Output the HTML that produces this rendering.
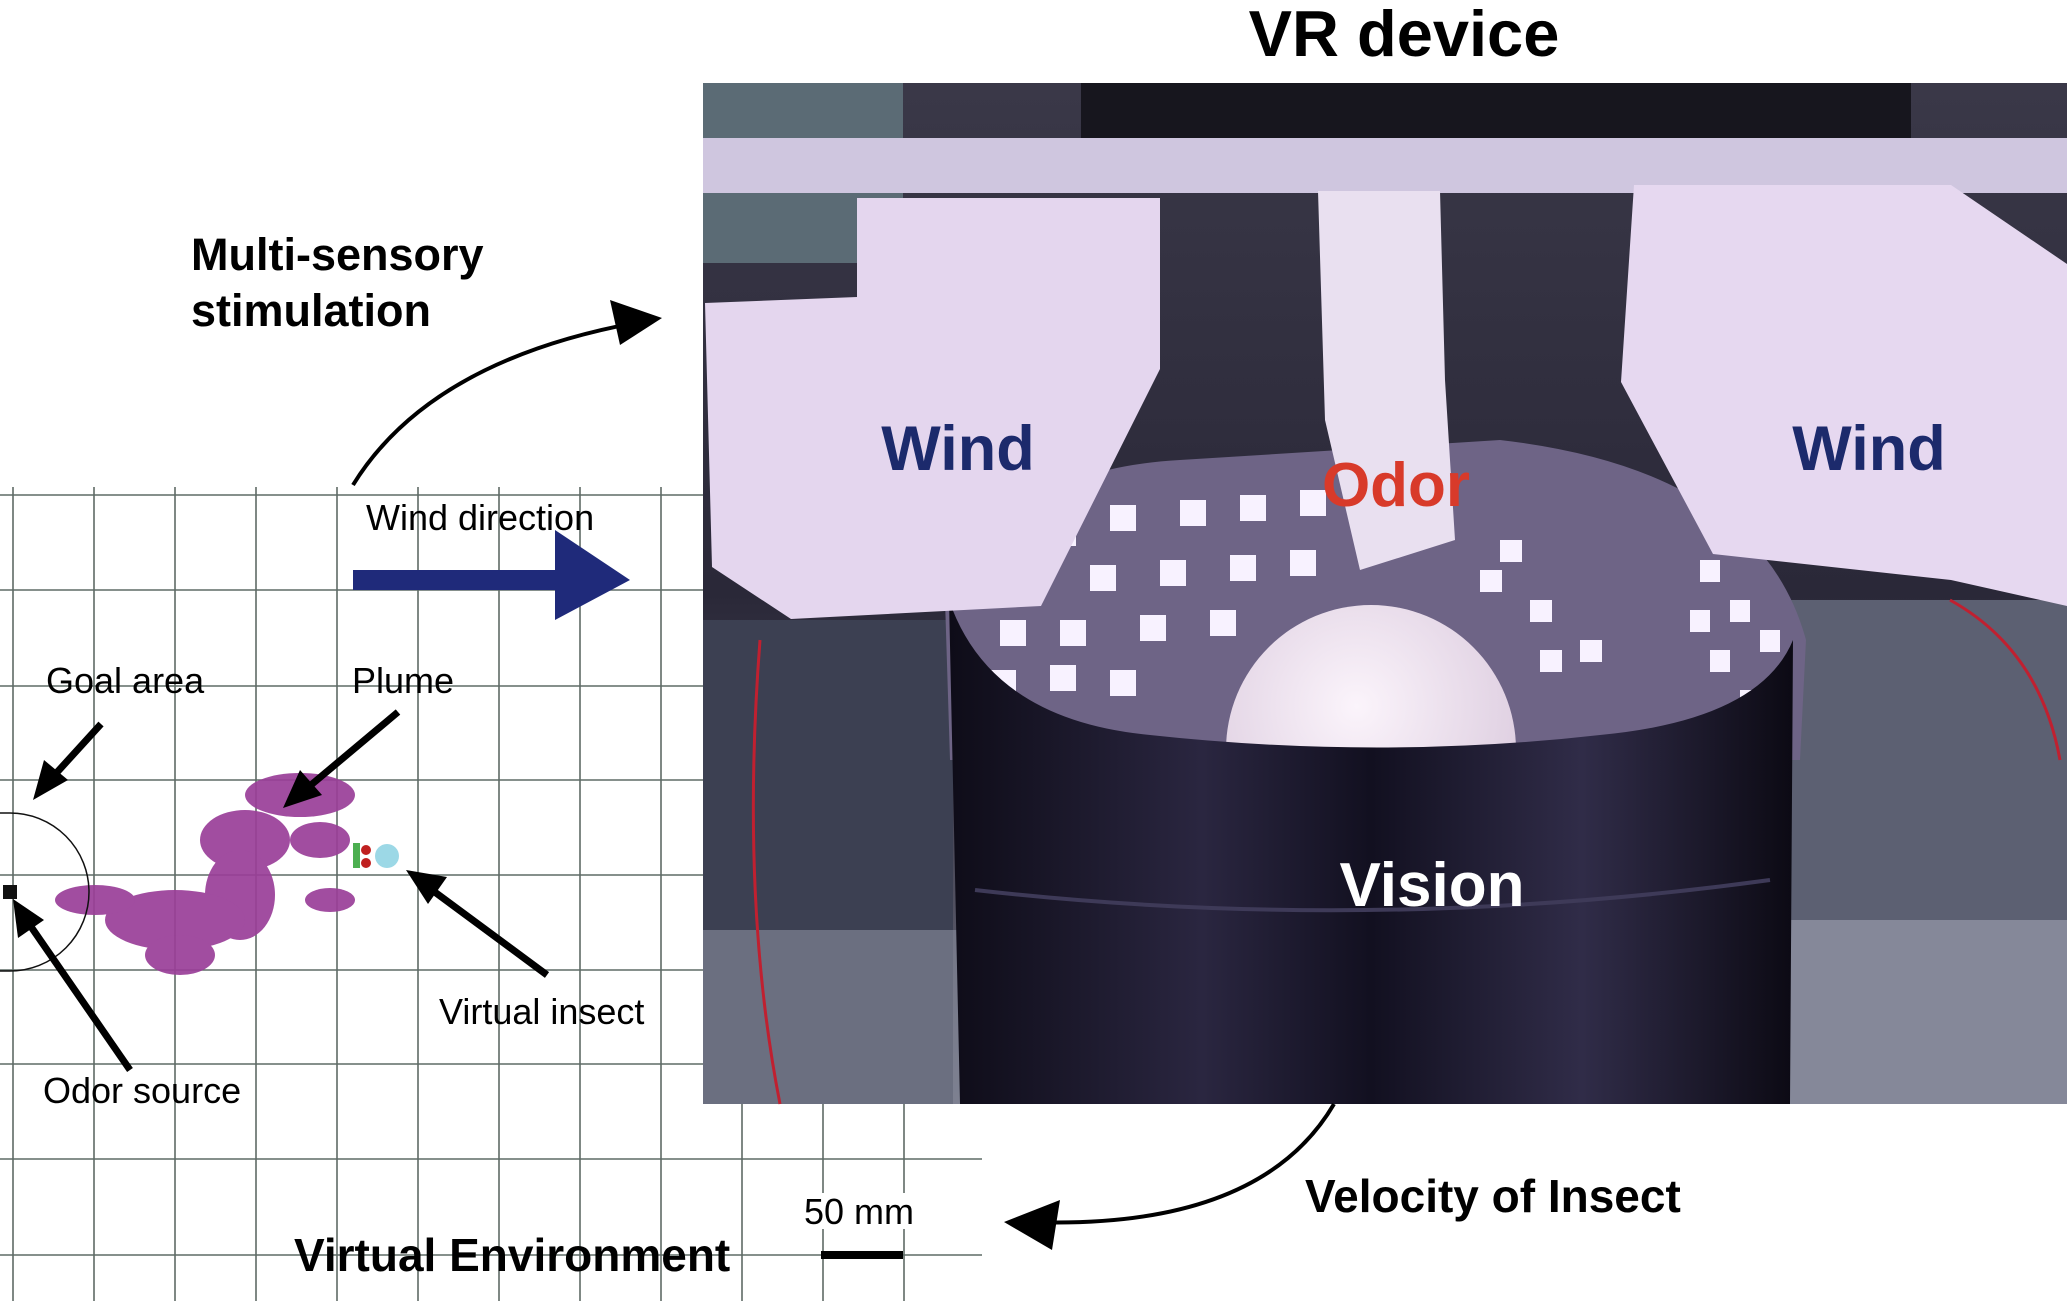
<!DOCTYPE html>
<html><head><meta charset="utf-8"><style>
html,body{margin:0;padding:0;background:#fff;}
body{width:2067px;height:1301px;overflow:hidden;position:relative;font-family:"Liberation Sans",Arial,sans-serif;}
svg{position:absolute;left:0;top:0;}
</style></head><body>
<svg width="2067" height="1301" viewBox="0 0 2067 1301" xmlns="http://www.w3.org/2000/svg">
<defs>
<radialGradient id="sph" cx="0.45" cy="0.35" r="0.7"><stop offset="0" stop-color="#fbf4fb"/><stop offset="1" stop-color="#d9c8dc"/></radialGradient>
<linearGradient id="cyl" x1="0" x2="1" y1="0" y2="0"><stop offset="0" stop-color="#0e0c18"/><stop offset="0.3" stop-color="#2a2640"/><stop offset="0.5" stop-color="#121020"/><stop offset="0.75" stop-color="#302c48"/><stop offset="1" stop-color="#0c0a14"/></linearGradient>
<linearGradient id="bg" x1="0" x2="0" y1="0" y2="1"><stop offset="0" stop-color="#3a3848"/><stop offset="0.5" stop-color="#2a2838"/><stop offset="1" stop-color="#6a6a7a"/></linearGradient>
</defs>
<!-- grid -->
<g stroke="#5f6b66" stroke-width="1.6">
<line x1="13" y1="487" x2="13" y2="1301"/><line x1="94" y1="487" x2="94" y2="1301"/><line x1="175" y1="487" x2="175" y2="1301"/><line x1="256" y1="487" x2="256" y2="1301"/><line x1="337" y1="487" x2="337" y2="1301"/><line x1="418" y1="487" x2="418" y2="1301"/><line x1="499" y1="487" x2="499" y2="1301"/><line x1="580" y1="487" x2="580" y2="1301"/><line x1="661" y1="487" x2="661" y2="1301"/><line x1="742" y1="1100" x2="742" y2="1301"/><line x1="823" y1="1100" x2="823" y2="1301"/><line x1="904" y1="1100" x2="904" y2="1301"/>
<line x1="0" y1="495" x2="703" y2="495"/><line x1="0" y1="590" x2="703" y2="590"/><line x1="0" y1="686" x2="703" y2="686"/><line x1="0" y1="780" x2="703" y2="780"/><line x1="0" y1="875" x2="703" y2="875"/><line x1="0" y1="970" x2="703" y2="970"/><line x1="0" y1="1064" x2="703" y2="1064"/><line x1="0" y1="1159" x2="982" y2="1159"/><line x1="0" y1="1255" x2="982" y2="1255"/>
</g>
<!-- photo -->
<rect x="703" y="83" width="1364" height="1021" fill="url(#bg)"/>
<rect x="703" y="83" width="200" height="180" fill="#5b6b75"/>
<rect x="1081" y="83" width="830" height="62" fill="#17161e"/>
<rect x="703" y="138" width="1364" height="55" fill="#cfc6df"/>
<rect x="703" y="620" width="250" height="484" fill="#3c4052"/>
<rect x="1790" y="600" width="277" height="504" fill="#5c6072"/>
<rect x="703" y="930" width="260" height="174" fill="#8a90a0" opacity="0.6"/>
<rect x="1790" y="920" width="277" height="184" fill="#a0a4b4" opacity="0.6"/>
<!-- LED panel -->
<path d="M945 600 Q1000 470 1180 460 L1500 440 Q1760 470 1806 640 L1800 760 L950 760 Z" fill="#6e6486"/>
<g fill="#f8f2ff">
<rect x="1050" y="520" width="26" height="26"/><rect x="1110" y="505" width="26" height="26"/><rect x="1180" y="500" width="26" height="26"/><rect x="1240" y="495" width="26" height="26"/><rect x="1300" y="490" width="26" height="26"/>
<rect x="1020" y="570" width="26" height="26"/><rect x="1090" y="565" width="26" height="26"/><rect x="1160" y="560" width="26" height="26"/><rect x="1230" y="555" width="26" height="26"/><rect x="1290" y="550" width="26" height="26"/>
<rect x="1000" y="620" width="26" height="26"/><rect x="1060" y="620" width="26" height="26"/><rect x="1140" y="615" width="26" height="26"/><rect x="1210" y="610" width="26" height="26"/>
<rect x="990" y="670" width="26" height="26"/><rect x="1050" y="665" width="26" height="26"/><rect x="1110" y="670" width="26" height="26"/>
<rect x="1480" y="570" width="22" height="22"/><rect x="1530" y="600" width="22" height="22"/><rect x="1500" y="540" width="22" height="22"/><rect x="1540" y="650" width="22" height="22"/><rect x="1580" y="640" width="22" height="22"/>
<rect x="1700" y="560" width="20" height="22"/><rect x="1730" y="600" width="20" height="22"/><rect x="1710" y="650" width="20" height="22"/><rect x="1740" y="690" width="20" height="22"/><rect x="1760" y="630" width="20" height="22"/><rect x="1690" y="610" width="20" height="22"/>
</g>
<circle cx="1371" cy="750" r="145" fill="url(#sph)"/>
<!-- cylinder -->
<path d="M949 600 Q990 720 1150 735 Q1380 760 1600 735 Q1760 720 1793 640 L1790 1104 L960 1104 Z" fill="url(#cyl)"/>
<path d="M975 890 Q1370 935 1770 880" stroke="#3e3a58" stroke-width="4" fill="none"/>
<!-- wind housings -->
<polygon points="857,198 1160,198 1160,369 1041,606 791,619 712,567 705,303 857,297" fill="#e4d6ee"/>
<polygon points="1634,185 1951,185 2067,264 2067,606 1951,580 1713,554 1621,382" fill="#e6d8f0"/>
<!-- tube -->
<polygon points="1318,191 1440,191 1445,380 1455,540 1360,570 1325,420" fill="#e9e0f0"/>
<path d="M760 640 Q740 900 780 1104" stroke="#c02030" stroke-width="3" fill="none"/>
<path d="M1950 600 Q2040 650 2060 760" stroke="#c02030" stroke-width="3" fill="none"/>
<!-- photo labels -->
<g font-family="Liberation Sans,Arial,sans-serif" font-weight="bold" font-size="63" text-anchor="middle">
<text x="958" y="470" fill="#1c2a6c">Wind</text>
<text x="1869" y="470" fill="#1c2a6c">Wind</text>
<text x="1396" y="506" font-size="62" fill="#d83a2a">Odor</text>
<text x="1432" y="906" font-size="62" fill="#ffffff">Vision</text>
</g>
<!-- left plume -->
<g fill="#9a3e98" opacity="0.92">
<ellipse cx="300" cy="795" rx="55" ry="22"/><ellipse cx="245" cy="840" rx="45" ry="30"/><ellipse cx="240" cy="895" rx="35" ry="45"/><ellipse cx="175" cy="920" rx="70" ry="30"/><ellipse cx="95" cy="900" rx="40" ry="15"/><ellipse cx="180" cy="955" rx="35" ry="20"/><ellipse cx="320" cy="840" rx="30" ry="18"/><ellipse cx="330" cy="900" rx="25" ry="12"/>
</g>
<path d="M0 813 L10 813 A79 79 0 0 1 10 971 L0 971" stroke="#111" stroke-width="1.5" fill="none"/>
<rect x="3" y="885" width="14" height="14" fill="#111"/>
<rect x="353" y="843" width="7" height="25" fill="#4caf50"/><circle cx="366" cy="850" r="5" fill="#c02020"/><circle cx="366" cy="863" r="5" fill="#c02020"/><circle cx="387" cy="856" r="12" fill="#9cd8e6"/>
<!-- black straight arrows -->
<g stroke="#000" stroke-width="7" fill="none">
<line x1="101" y1="724" x2="50" y2="780"/><line x1="398" y1="712" x2="305" y2="790"/><line x1="547" y1="975" x2="428" y2="887"/><line x1="130" y1="1070" x2="25" y2="918"/>
</g>
<g fill="#000">
<polygon points="33,800 44,760 68,780"/><polygon points="283,808 300,770 322,795"/><polygon points="406,870 447,877 428,904"/><polygon points="13,899 44,920 18,938"/>
</g>
<!-- blue wind arrow -->
<rect x="353" y="570" width="205" height="20" fill="#1f2a7a"/>
<polygon points="555,530 630,580 555,620" fill="#1f2a7a"/>
<!-- curved arrows -->
<path d="M353 485 Q430 360 640 322" stroke="#000" stroke-width="4" fill="none"/>
<polygon points="662,318 610,300 620,345" fill="#000"/>
<path d="M1334 1104 Q1260 1230 1030 1222" stroke="#000" stroke-width="4" fill="none"/>
<polygon points="1004,1222 1060,1200 1052,1250" fill="#000"/>
<!-- scale bar -->
<rect x="821" y="1251" width="82" height="8" fill="#000"/>
<!-- text -->
<g font-family="Liberation Sans,Arial,sans-serif" fill="#000">
<text x="1404" y="56" font-size="65" font-weight="bold" text-anchor="middle">VR device</text>
<text x="191" y="270" font-size="45" font-weight="bold">Multi-sensory</text>
<text x="191" y="326" font-size="45" font-weight="bold">stimulation</text>
<text x="366" y="530" font-size="36">Wind direction</text>
<text x="46" y="693" font-size="36">Goal area</text>
<text x="352" y="693" font-size="36">Plume</text>
<text x="439" y="1024" font-size="36">Virtual insect</text>
<text x="43" y="1103" font-size="36">Odor source</text>
<text x="294" y="1271" font-size="46" font-weight="bold">Virtual Environment</text>
<rect x="800" y="1193" width="120" height="36" fill="#fff"/>
<text x="804" y="1224" font-size="36">50 mm</text>
<text x="1305" y="1212" font-size="46" font-weight="bold">Velocity of Insect</text>
</g>
</svg>
</body></html>
